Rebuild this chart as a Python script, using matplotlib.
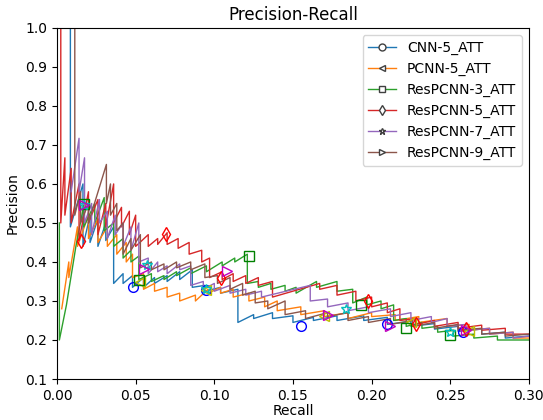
import matplotlib
matplotlib.use("Agg")
import matplotlib.pyplot as plt
from matplotlib.lines import Line2D

# ---- data (recall, precision) ----
cnn5_r = [0.0085, 0.0085, 0.0165, 0.0165, 0.021, 0.021, 0.026, 0.026, 0.031, 0.031, 0.036, 0.036,
          0.042, 0.042, 0.048, 0.048, 0.055, 0.055, 0.062, 0.062, 0.070, 0.070, 0.078, 0.078,
          0.086, 0.086, 0.094, 0.094, 0.104, 0.104, 0.115, 0.115, 0.125, 0.125, 0.137, 0.137,
          0.150, 0.150, 0.163, 0.163, 0.178, 0.178, 0.195, 0.195, 0.210, 0.210, 0.225, 0.225,
          0.240, 0.240, 0.255, 0.255, 0.270, 0.270, 0.285, 0.285, 0.300]
cnn5_p = [1.0, 0.49, 0.60, 0.44, 0.52, 0.45, 0.51, 0.44, 0.50, 0.455, 0.49, 0.345,
          0.37, 0.345, 0.365, 0.335, 0.36, 0.335, 0.36, 0.345, 0.365, 0.35, 0.375, 0.355,
          0.38, 0.335, 0.34, 0.325, 0.335, 0.32, 0.33, 0.245, 0.265, 0.255, 0.27, 0.255,
          0.262, 0.245, 0.258, 0.25, 0.262, 0.25, 0.262, 0.25, 0.258, 0.24, 0.248, 0.235,
          0.242, 0.228, 0.235, 0.222, 0.228, 0.215, 0.22, 0.205, 0.21]

pcnn5_r = [0.003, 0.0075, 0.0075, 0.013, 0.013, 0.02, 0.02, 0.026, 0.026, 0.032, 0.032, 0.038,
           0.038, 0.044, 0.044, 0.048, 0.048, 0.055, 0.055, 0.062, 0.062, 0.070, 0.070, 0.078,
           0.078, 0.088, 0.088, 0.096, 0.096, 0.104, 0.104, 0.112, 0.112, 0.122, 0.122, 0.132,
           0.132, 0.14, 0.14, 0.155, 0.155, 0.17, 0.17, 0.185, 0.185, 0.20, 0.20, 0.215,
           0.215, 0.23, 0.23, 0.248, 0.248, 0.262, 0.262, 0.275, 0.275, 0.29, 0.29, 0.30]
pcnn5_p = [0.28, 0.40, 0.36, 0.49, 0.44, 0.52, 0.46, 0.51, 0.45, 0.49, 0.44, 0.47,
           0.42, 0.45, 0.40, 0.42, 0.36, 0.37, 0.33, 0.345, 0.325, 0.335, 0.31, 0.32,
           0.30, 0.315, 0.30, 0.33, 0.32, 0.335, 0.32, 0.33, 0.31, 0.32, 0.30, 0.31,
           0.285, 0.30, 0.275, 0.285, 0.265, 0.275, 0.26, 0.27, 0.255, 0.27, 0.26, 0.265,
           0.25, 0.26, 0.245, 0.255, 0.235, 0.24, 0.225, 0.23, 0.215, 0.22, 0.205, 0.205]

res3_r = [0.0015, 0.0015, 0.006, 0.012, 0.017, 0.017, 0.024, 0.024, 0.030, 0.030, 0.036, 0.036,
          0.042, 0.042, 0.047, 0.047, 0.052, 0.052, 0.060, 0.060, 0.068, 0.068, 0.076, 0.076,
          0.085, 0.085, 0.095, 0.095, 0.105, 0.105, 0.113, 0.113, 0.121, 0.121, 0.128, 0.128,
          0.136, 0.136, 0.145, 0.145, 0.152, 0.152, 0.165, 0.165, 0.178, 0.178, 0.188, 0.188,
          0.197, 0.197, 0.206, 0.206, 0.214, 0.214, 0.222, 0.222, 0.232, 0.232, 0.242, 0.242,
          0.252, 0.252, 0.265, 0.265, 0.28, 0.28, 0.30]
res3_p = [0.50, 0.20, 0.29, 0.44, 0.545, 0.49, 0.55, 0.50, 0.565, 0.48, 0.50, 0.44,
          0.46, 0.41, 0.43, 0.40, 0.415, 0.355, 0.37, 0.35, 0.365, 0.355, 0.375, 0.365,
          0.385, 0.37, 0.39, 0.375, 0.40, 0.39, 0.41, 0.40, 0.42, 0.345, 0.35, 0.335,
          0.345, 0.33, 0.34, 0.325, 0.335, 0.32, 0.35, 0.335, 0.35, 0.325, 0.33, 0.295,
          0.31, 0.29, 0.30, 0.28, 0.29, 0.25, 0.255, 0.235, 0.245, 0.23, 0.235, 0.22,
          0.225, 0.21, 0.215, 0.205, 0.21, 0.20, 0.20]

res5_r = [0.0024, 0.0024, 0.005, 0.005, 0.009, 0.009, 0.014, 0.014, 0.020, 0.020, 0.026, 0.026,
          0.031, 0.031, 0.036, 0.036, 0.041, 0.041, 0.046, 0.046, 0.050, 0.050, 0.058, 0.058,
          0.064, 0.064, 0.070, 0.070, 0.077, 0.077, 0.084, 0.084, 0.092, 0.092, 0.097, 0.097,
          0.105, 0.105, 0.112, 0.112, 0.120, 0.120, 0.128, 0.128, 0.137, 0.137, 0.167, 0.167,
          0.178, 0.178, 0.190, 0.190, 0.200, 0.200, 0.210, 0.210, 0.218, 0.218, 0.228, 0.228,
          0.240, 0.240, 0.255, 0.255, 0.270, 0.270, 0.285, 0.285, 0.30]
res5_p = [1.0, 0.50, 0.667, 0.52, 0.64, 0.50, 0.60, 0.455, 0.58, 0.50, 0.56, 0.47,
          0.55, 0.49, 0.60, 0.50, 0.54, 0.49, 0.53, 0.47, 0.52, 0.44, 0.47, 0.44,
          0.46, 0.445, 0.475, 0.445, 0.46, 0.435, 0.45, 0.42, 0.43, 0.40, 0.41, 0.36,
          0.375, 0.355, 0.37, 0.35, 0.365, 0.345, 0.36, 0.34, 0.35, 0.31, 0.345, 0.33,
          0.34, 0.315, 0.325, 0.30, 0.31, 0.285, 0.295, 0.27, 0.28, 0.25, 0.255, 0.24,
          0.25, 0.235, 0.245, 0.23, 0.238, 0.225, 0.23, 0.215, 0.215]

res7_r = [0.009, 0.014, 0.014, 0.0175, 0.0175, 0.022, 0.022, 0.027, 0.027, 0.032, 0.032, 0.037,
          0.037, 0.042, 0.042, 0.047, 0.047, 0.052, 0.052, 0.058, 0.058, 0.064, 0.064, 0.070,
          0.070, 0.078, 0.078, 0.085, 0.085, 0.093, 0.093, 0.100, 0.100, 0.110, 0.110, 0.120,
          0.120, 0.130, 0.130, 0.161, 0.161, 0.172, 0.172, 0.185, 0.185, 0.198, 0.198, 0.212,
          0.212, 0.225, 0.225, 0.238, 0.238, 0.248, 0.248, 0.260, 0.260, 0.275, 0.275, 0.29,
          0.29, 0.30]
res7_p = [0.58, 0.717, 0.58, 0.667, 0.50, 0.55, 0.47, 0.56, 0.50, 0.53, 0.46, 0.52,
          0.47, 0.50, 0.44, 0.49, 0.43, 0.50, 0.40, 0.41, 0.37, 0.40, 0.375, 0.39,
          0.37, 0.395, 0.38, 0.39, 0.34, 0.35, 0.33, 0.345, 0.325, 0.34, 0.32, 0.33,
          0.315, 0.325, 0.31, 0.34, 0.30, 0.305, 0.285, 0.295, 0.275, 0.285, 0.27, 0.28,
          0.26, 0.27, 0.25, 0.26, 0.245, 0.255, 0.235, 0.24, 0.225, 0.23, 0.215, 0.22,
          0.205, 0.21]

res9_r = [0.0113, 0.0113, 0.015, 0.015, 0.020, 0.020, 0.0314, 0.0314, 0.034, 0.034, 0.038, 0.038,
          0.042, 0.042, 0.047, 0.047, 0.053, 0.053, 0.060, 0.060, 0.068, 0.068, 0.076, 0.076,
          0.085, 0.085, 0.094, 0.094, 0.102, 0.102, 0.110, 0.110, 0.118, 0.118, 0.126, 0.126,
          0.134, 0.134, 0.145, 0.145, 0.158, 0.158, 0.172, 0.172, 0.185, 0.185, 0.198, 0.198,
          0.212, 0.212, 0.226, 0.226, 0.240, 0.240, 0.255, 0.255, 0.270, 0.270, 0.285, 0.285,
          0.30]
res9_p = [1.0, 0.52, 0.58, 0.50, 0.55, 0.50, 0.65, 0.55, 0.60, 0.52, 0.55, 0.48,
          0.50, 0.42, 0.46, 0.43, 0.47, 0.385, 0.40, 0.38, 0.395, 0.38, 0.40, 0.385,
          0.40, 0.38, 0.395, 0.36, 0.365, 0.345, 0.36, 0.33, 0.345, 0.315, 0.325, 0.295,
          0.30, 0.28, 0.30, 0.265, 0.275, 0.255, 0.27, 0.26, 0.27, 0.25, 0.26, 0.245,
          0.255, 0.24, 0.25, 0.235, 0.245, 0.23, 0.24, 0.225, 0.23, 0.215, 0.22, 0.21,
          0.215]

# marker positions (recall, precision)
cnn5_mr = [0.048, 0.095, 0.155, 0.210, 0.258]
cnn5_mp = [0.335, 0.328, 0.235, 0.242, 0.220]
pcnn5_mr = [0.053, 0.095, 0.170, 0.225, 0.262]
pcnn5_mp = [0.348, 0.328, 0.262, 0.245, 0.222]
res3_mr = [0.017, 0.052, 0.122, 0.193, 0.222, 0.250]
res3_mp = [0.548, 0.355, 0.415, 0.290, 0.232, 0.214]
res5_mr = [0.015, 0.069, 0.104, 0.198, 0.228, 0.260]
res5_mp = [0.455, 0.472, 0.360, 0.300, 0.240, 0.228]
res7_mr = [0.017, 0.057, 0.095, 0.184, 0.250]
res7_mp = [0.545, 0.392, 0.330, 0.280, 0.220]
res9_mr = [0.017, 0.055, 0.108, 0.172, 0.212, 0.260]
res9_mp = [0.545, 0.382, 0.377, 0.265, 0.235, 0.226]

labels = ["CNN-5_ATT", "PCNN-5_ATT", "ResPCNN-3_ATT",
          "ResPCNN-5_ATT", "ResPCNN-7_ATT", "ResPCNN-9_ATT"]
line_colors = ["C0", "C1", "C2", "C3", "C4", "C5"]
mark_colors = ["b", "y", "g", "r", "c", "m"]
markers = ["o", "<", "s", "d", "*", ">"]

curves = [(cnn5_r, cnn5_p), (pcnn5_r, pcnn5_p), (res3_r, res3_p),
          (res5_r, res5_p), (res7_r, res7_p), (res9_r, res9_p)]
marks = [(cnn5_mr, cnn5_mp), (pcnn5_mr, pcnn5_mp), (res3_mr, res3_mp),
         (res5_mr, res5_mp), (res7_mr, res7_mp), (res9_mr, res9_mp)]

fig = plt.figure(figsize=(5.43, 4.2), dpi=100)
ax = fig.add_axes([0.105, 0.0976, 0.869, 0.836])

for (r, p), col in zip(curves, line_colors):
    ax.plot(r, p, color=col, lw=1.0)

for (r, p), mc, mk in zip(marks, mark_colors, markers):
    ax.plot(r, p, ls="none", marker=mk, ms=7, mfc="none", mec=mc, mew=1.0)

handles = [Line2D([0], [0], color=lc, lw=1.0, marker=mk, ms=5, mfc="white", mec="0.25")
           for lc, mk in zip(line_colors, markers)]
ax.legend(handles, labels, loc="upper right")

ax.set_xlim(0.0, 0.3)
ax.set_ylim(0.1, 1.0)
ax.set_xticks([0.0, 0.05, 0.10, 0.15, 0.20, 0.25, 0.30])
ax.set_xlabel("Recall", labelpad=1)
ax.set_ylabel("Precision")
ax.set_title("Precision-Recall")

fig.savefig("out.png", dpi=100)
